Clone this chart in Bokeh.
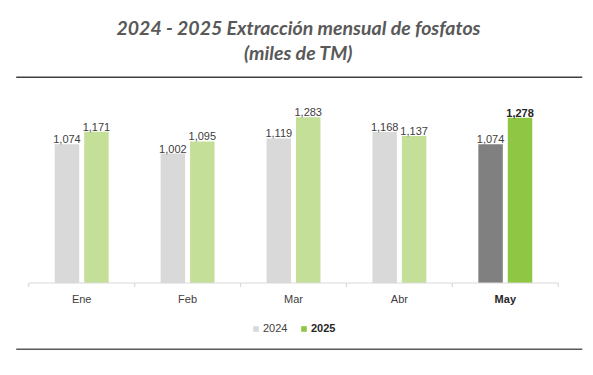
from bokeh.plotting import figure
from bokeh.models import (ColumnDataSource, FactorRange, Range1d, Legend,
                          LegendItem, Dodge)
from bokeh.transform import dodge
from bokeh.core.properties import value
from bokeh.embed import file_html
from bokeh.resources import INLINE

# ---------------- data ----------------
months = ["Ene", "Feb", "Mar", "Abr", "May"]
y2024 = [1074, 1002, 1119, 1168, 1074]
y2025 = [1171, 1095, 1283, 1137, 1278]
series = ["2024", "2025"]
title_lines = ["2024 - 2025 Extracción mensual de fosfatos", "(miles de TM)"]

# ---------------- styles ----------------
LBL_FONT = "Liberation Sans"
LBL_SIZE = "11px"
TITLE_FONT = "Lato"
C24, C24_HI = "#d9d9d9", "#808080"
C25, C25_HI = "#c3df98", "#8fc745"
LABEL_C = "#404040"

W, H = 593, 375
RB = 7                       # right border
FRAME_W = W - RB
PAD = 0.1067
PXC = FRAME_W / (len(months) * (1 + PAD))   # pixels per category
ZERO_PX = 282.5              # page row of the value axis
K = 165.8 / 1283             # pixels per unit
Y0, Y1 = -(H - ZERO_PX) / K, ZERO_PX / K

p = figure(width=W, height=H, output_backend="svg", toolbar_location=None,
           x_range=FactorRange(factors=months, range_padding=PAD,
                               range_padding_units="percent"),
           y_range=Range1d(Y0, Y1),
           x_axis_location=None, y_axis_location=None,
           min_border_left=0, min_border_right=RB, min_border_top=0,
           min_border_bottom=0, outline_line_color=None,
           background_fill_color="white", border_fill_color="white")
p.grid.visible = False
# page-pixel vertical coordinates for the decorations (title, rules)
p.extra_y_ranges = {"px": Range1d(H, 0)}


def at(factor, px_off):
    """categorical x position shifted by a pixel offset"""
    return value(factor, transform=Dodge(value=px_off / PXC, range=p.x_range))


n = len(months)
src = ColumnDataSource(dict(
    month=months, y2024=y2024, y2025=y2025,
    c24=[C24] * (n - 1) + [C24_HI],
    c25=[C25] * (n - 1) + [C25_HI],
    l24=[f"{v:,}" for v in y2024],
    l25=[f"{v:,}" for v in y2025],
    fs25=["normal"] * (n - 1) + ["bold"],
    tc25=[LABEL_C] * (n - 1) + ["#262626"],
    mfs=["normal"] * (n - 1) + ["bold"],
    mtc=[LABEL_C] * (n - 1) + ["#262626"],
))

OFF, BW = 0.139, 0.231
r24 = p.vbar(x=dodge("month", -OFF, range=p.x_range), top="y2024", width=BW,
             fill_color="c24", line_color=None, source=src)
r25 = p.vbar(x=dodge("month", OFF, range=p.x_range), top="y2025", width=BW,
             fill_color="c25", line_color=None, source=src)

# value labels
p.text(x=dodge("month", -OFF, range=p.x_range), y="y2024", text="l24",
       text_align="center", text_baseline="alphabetic", y_offset=-5,
       text_font=value(LBL_FONT), text_font_size=LBL_SIZE, text_color=LABEL_C,
       source=src)
p.text(x=dodge("month", OFF, range=p.x_range), y="y2025", text="l25",
       text_align="center", text_baseline="alphabetic", y_offset=-5,
       text_font=value(LBL_FONT), text_font_size=LBL_SIZE, text_color="tc25",
       text_font_style="fs25", source=src)

# category axis (line, separators, labels)
p.segment(x0=dodge("month", -0.5, range=p.x_range), y0=0,
          x1=dodge("month", 0.5, range=p.x_range), y1=0,
          line_color="#d9d9d9", line_width=1.2, source=src)
TICK = 4 / K
p.segment(x0=dodge("month", -0.5, range=p.x_range), y0=0,
          x1=dodge("month", -0.5, range=p.x_range), y1=-TICK,
          line_color="#d9d9d9", line_width=1.2, source=src)
p.segment(x0=at(months[-1], PXC / 2), y0=0, x1=at(months[-1], PXC / 2), y1=-TICK,
          line_color="#d9d9d9", line_width=1.2)
p.text(x="month", y=0, text="month", y_offset=15.5, text_align="center",
       text_baseline="middle", text_font=value(LBL_FONT), text_font_size=LBL_SIZE,
       text_color="mtc", text_font_style="mfs", source=src)

# title and rules
mid = months[len(months) // 2]
p.text(x=at(mid, 5), y=[27, 52], text=title_lines, text_align="center",
       text_baseline="middle", text_font=value(TITLE_FONT),
       text_font_style="bold italic", text_font_size="19.5px", text_color="#595959",
       y_range_name="px")
x_left = at(months[0], -PXC / 2 - 12.5)
x_right = at(months[-1], PXC / 2 + 24)
p.segment(x0=x_left, x1=x_right, y0=76.7, y1=76.7, line_color="#404040",
          line_width=1.6, y_range_name="px")
p.segment(x0=x_left, x1=x_right, y0=348.7, y1=348.7, line_color="#595959",
          line_width=1.6, y_range_name="px")

# legend
common = dict(orientation="horizontal", glyph_width=7, glyph_height=7,
              label_standoff=4, padding=0, margin=0, spacing=0,
              border_line_color=None, background_fill_alpha=0,
              label_text_font=LBL_FONT, label_text_font_size=LBL_SIZE,
              label_height=7)
leg24 = Legend(items=[LegendItem(label=series[0], renderers=[r24], index=0)],
               location=(252, 41), label_text_color=LABEL_C, **common)
leg25 = Legend(items=[LegendItem(label=series[1], renderers=[r25], index=n - 1)],
               location=(300, 41), label_text_color="#262626",
               label_text_font_style="bold", **common)
p.add_layout(leg24)
p.add_layout(leg25)

open("out.html", "w").write(file_html(p, INLINE))
